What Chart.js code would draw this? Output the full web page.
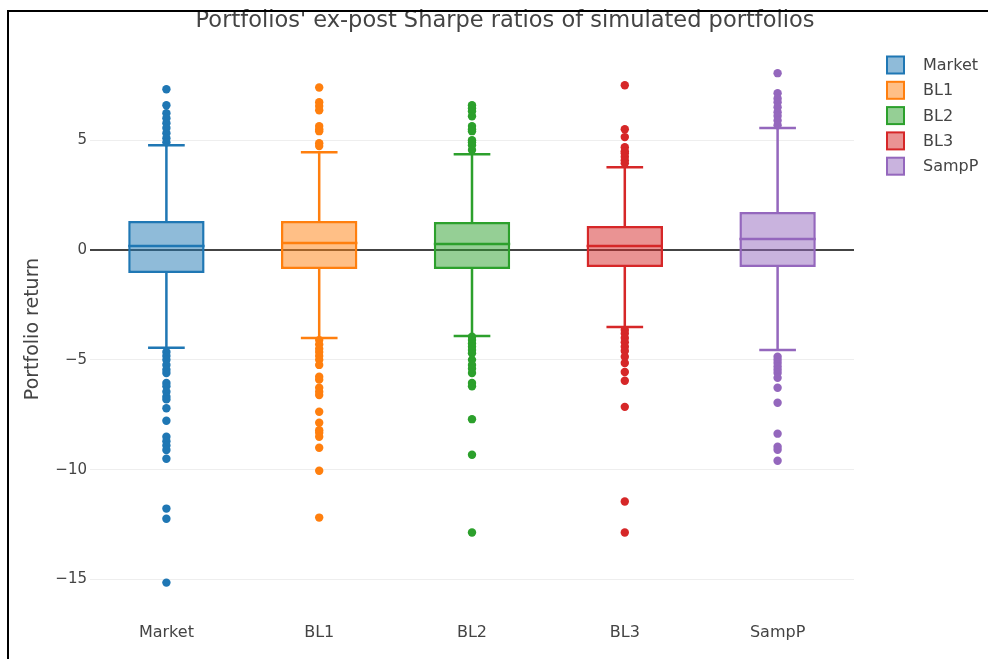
<!DOCTYPE html>
<html>
<head>
<meta charset="utf-8">
<script src="https://cdn.jsdelivr.net/npm/chart.js@4.4.0/dist/chart.umd.min.js"></script>
<style>
  body { margin: 0; background: #fff; }
  #wrap { position: relative; width: 988px; height: 659px; }
  #frame { position: absolute; left: 7px; top: 10px; right: 0; bottom: 0;
           border-top: 2px solid #000; border-left: 2px solid #000; pointer-events: none; }
</style>
</head>
<body>
<div id="wrap">
  <canvas id="chart" width="988" height="659"></canvas>
  <div id="frame"></div>
</div>
<script>
// box plot data
var categories = ['Market', 'BL1', 'BL2', 'BL3', 'SampP'];
var q1 = [-1.05, -0.86, -0.86, -0.77, -0.77];
var median = [0.18, 0.32, 0.27, 0.18, 0.5];
var q3 = [1.32, 1.32, 1.27, 1.09, 1.73];
var whiskerLow = [-4.45, -4.0, -3.91, -3.5, -4.55];
var whiskerHigh = [4.77, 4.45, 4.36, 3.77, 5.55];

var marketOut = [7.32, 6.59, 6.23, 6.0, 5.77, 5.55, 5.32, 5.09, 4.9,
  -4.64, -4.82, -5.0, -5.23, -5.45, -5.6, -6.05, -6.2, -6.45, -6.68, -6.8, -7.2, -7.77,
  -8.5, -8.7, -8.9, -9.1, -9.5, -11.77, -12.23, -15.14];
var bl1Out = [7.4, 6.73, 6.55, 6.36, 5.64, 5.5, 5.41, 4.86, 4.73,
  -4.1, -4.3, -4.5, -4.64, -4.82, -5.0, -5.23, -5.77, -5.9, -6.27, -6.45, -6.6, -7.36,
  -7.86, -8.2, -8.32, -8.5, -9.0, -10.05, -12.18];
var bl2Out = [6.59, 6.45, 6.32, 6.09, 5.64, 5.5, 5.41, 5.0, 4.9, 4.77, 4.55,
  -3.95, -4.1, -4.25, -4.4, -4.55, -4.7, -5.0, -5.23, -5.4, -5.6, -6.05, -6.2, -7.7,
  -9.32, -12.86];
var bl3Out = [7.5, 5.5, 5.14, 4.68, 4.5, 4.41, 4.25, 4.09, 3.95,
  -3.64, -3.8, -4.0, -4.2, -4.4, -4.6, -4.86, -5.14, -5.55, -5.95, -7.14, -11.45, -12.86];
var sampOut = [8.05, 7.14, 6.9, 6.73, 6.5, 6.27, 6.1, 5.9, 5.68,
  -4.86, -5.0, -5.14, -5.3, -5.45, -5.6, -5.82, -6.27, -6.95, -8.36, -8.95, -9.09, -9.59];
var outliers = [marketOut, bl1Out, bl2Out, bl3Out, sampOut];

var yTicks = [-15, -10, -5, 0, 5];

var colors = ['#1f77b4', '#ff7f0e', '#2ca02c', '#d62728', '#9467bd'];
var fills = ['rgba(31,119,180,0.5)', 'rgba(255,127,14,0.5)', 'rgba(44,160,44,0.5)',
             'rgba(214,39,40,0.5)', 'rgba(148,103,189,0.5)'];
var FONT = '"DejaVu Sans", Verdana, sans-serif';
var textColor = '#444';
var LW = 2.5;

var datasets = [];
categories.forEach(function(c, i) {
  datasets.push({
    type: 'bar',
    label: c,
    data: categories.map(function(_, j) { return j === i ? [q1[i], q3[i]] : null; }),
    backgroundColor: fills[i],
    borderColor: colors[i],
    borderWidth: LW,
    borderSkipped: false,
    grouped: false,
    categoryPercentage: 1,
    barPercentage: 0.5,
    order: 2
  });
});
categories.forEach(function(c, i) {
  datasets.push({
    type: 'line',
    label: c + ' outliers',
    data: outliers[i].map(function(v) { return {x: c, y: v}; }),
    showLine: false,
    pointRadius: 4.2,
    pointBackgroundColor: colors[i],
    pointBorderWidth: 0,
    order: 1
  });
});

// whiskers + medians, positioned through the chart scales
var boxParts = {
  id: 'boxParts',
  beforeDatasetsDraw: function(chart) {
    var ctx = chart.ctx, y = chart.scales.y;
    ctx.save();
    ctx.lineWidth = LW;
    categories.forEach(function(c, i) {
      var bar = chart.getDatasetMeta(i).data[i];
      var cap = bar.width * 0.24;
      ctx.strokeStyle = colors[i];
      ctx.beginPath();
      ctx.moveTo(bar.x, y.getPixelForValue(q3[i]));
      ctx.lineTo(bar.x, y.getPixelForValue(whiskerHigh[i]));
      ctx.moveTo(bar.x - cap, y.getPixelForValue(whiskerHigh[i]));
      ctx.lineTo(bar.x + cap, y.getPixelForValue(whiskerHigh[i]));
      ctx.moveTo(bar.x, y.getPixelForValue(q1[i]));
      ctx.lineTo(bar.x, y.getPixelForValue(whiskerLow[i]));
      ctx.moveTo(bar.x - cap, y.getPixelForValue(whiskerLow[i]));
      ctx.lineTo(bar.x + cap, y.getPixelForValue(whiskerLow[i]));
      ctx.stroke();
    });
    ctx.restore();
  },
  afterDatasetsDraw: function(chart) {
    var ctx = chart.ctx, y = chart.scales.y;
    ctx.save();
    ctx.lineWidth = LW;
    categories.forEach(function(c, i) {
      var bar = chart.getDatasetMeta(i).data[i];
      var py = y.getPixelForValue(median[i]);
      ctx.strokeStyle = colors[i];
      ctx.beginPath();
      ctx.moveTo(bar.x - bar.width / 2, py);
      ctx.lineTo(bar.x + bar.width / 2, py);
      ctx.stroke();
    });
    ctx.restore();
  }
};

// title, axis title and legend
var decorations = {
  id: 'decorations',
  afterDraw: function(chart) {
    var ctx = chart.ctx, area = chart.chartArea;
    ctx.save();
    ctx.fillStyle = textColor;
    ctx.textBaseline = 'middle';
    ctx.textAlign = 'center';
    ctx.font = '22.5px ' + FONT;
    ctx.fillText("Portfolios' ex-post Sharpe ratios of simulated portfolios", 505, 21);

    ctx.save();
    ctx.translate(33, (area.top + area.bottom) / 2 + 1);
    ctx.rotate(-Math.PI / 2);
    ctx.font = '19px ' + FONT;
    ctx.fillText('Portfolio return', 0, 0);
    ctx.restore();

    ctx.textAlign = 'left';
    ctx.font = '16px ' + FONT;
    categories.forEach(function(c, i) {
      var cy = 65 + i * 25.3;
      ctx.fillStyle = fills[i];
      ctx.fillRect(887, cy - 8.5, 17, 17);
      ctx.strokeStyle = colors[i];
      ctx.lineWidth = 2;
      ctx.strokeRect(887, cy - 8.5, 17, 17);
      ctx.fillStyle = textColor;
      ctx.fillText(c, 923, cy + 1);
    });
    ctx.restore();
  }
};

new Chart(document.getElementById('chart'), {
  type: 'bar',
  data: { labels: categories, datasets: datasets },
  options: {
    responsive: false,
    animation: false,
    devicePixelRatio: 1,
    layout: { padding: { top: 49, right: 134, left: 0, bottom: 0 } },
    plugins: { legend: { display: false }, title: { display: false }, tooltip: { enabled: false } },
    scales: {
      x: {
        type: 'category',
        grid: { display: false },
        border: { display: false },
        ticks: { color: textColor, font: { family: FONT, size: 16 }, padding: 8 },
        afterFit: function(s) { s.height = 52; }
      },
      y: {
        min: -16.25,
        max: 9.15,
        afterBuildTicks: function(s) { s.ticks = yTicks.map(function(v) { return {value: v}; }); },
        grid: {
          drawTicks: false,
          color: function(c) { return c.tick && c.tick.value === 0 ? '#444' : '#eee'; },
          lineWidth: function(c) { return c.tick && c.tick.value === 0 ? 2 : 1; }
        },
        border: { display: false },
        ticks: {
          color: textColor,
          font: { family: FONT, size: 15 },
          padding: 3,
          callback: function(v) { return String(v).replace('-', '\u2212'); }
        },
        afterFit: function(s) { s.width = 90; }
      }
    }
  },
  plugins: [boxParts, decorations]
});
</script>
</body>
</html>
